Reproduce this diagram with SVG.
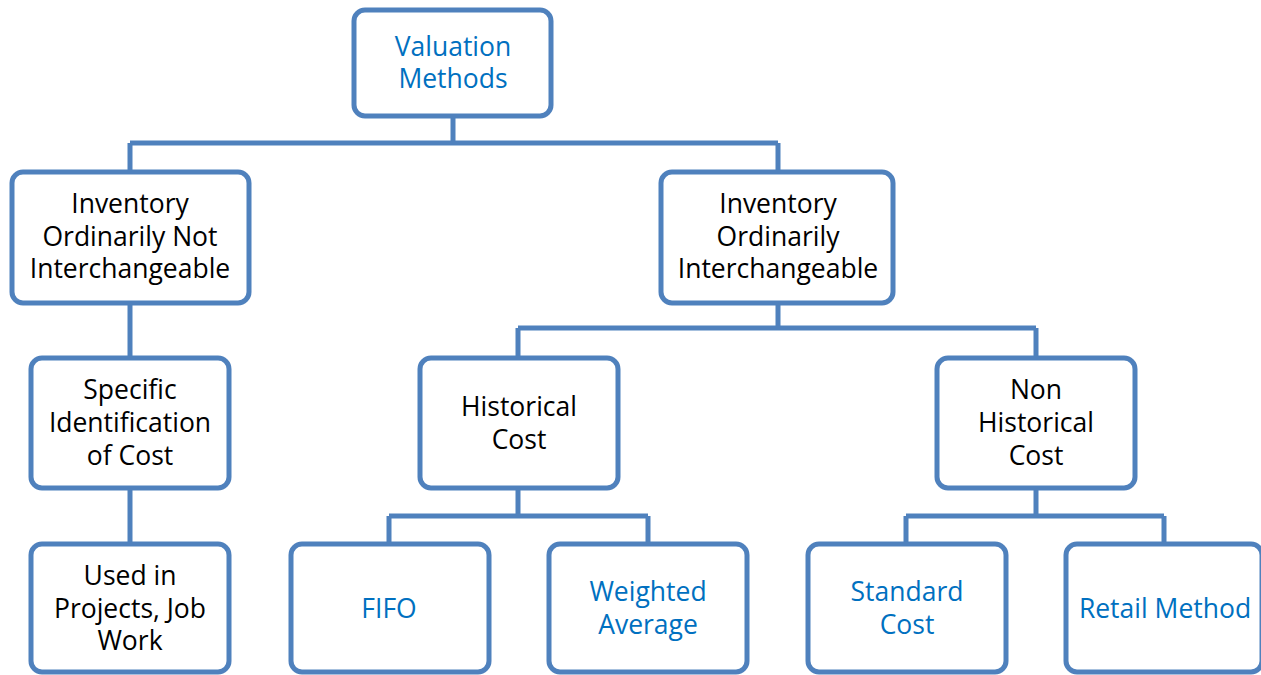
<svg xmlns="http://www.w3.org/2000/svg" width="1261" height="675" viewBox="0 0 1261 675">
<style>
.box{fill:#fff;stroke:#4F81BD;stroke-width:5}
.con{fill:none;stroke:#4F81BD;stroke-width:5}
text{font-family:"Open Sans","Noto Sans","Liberation Sans",sans-serif;font-size:26.5px;text-anchor:middle}
.b{fill:#0070C0}
.k{fill:#000}
</style>
<rect width="1261" height="675" fill="#fff"/>
<g id="connectors">
<path class="con" d="M453 116V143M130 143H778M130 143V172M778 143V172"/>
<path class="con" d="M130 303V358M130 488V544"/>
<path class="con" d="M778 303V328M518 328H1036M518 328V358M1036 328V358"/>
<path class="con" d="M518 488V516M389 516H648M389 516V544M648 516V544"/>
<path class="con" d="M1036 488V516M906 516H1164M906 516V544M1164 516V544"/>
</g>
<g id="valuation">
<rect class="box" x="354" y="10" width="197" height="106" rx="11"/>
<text class="b" x="453" y="56">Valuation</text>
<text class="b" x="453" y="88">Methods</text>
</g>
<g id="not-interchangeable">
<rect class="box" x="12" y="172" width="237" height="131" rx="11"/>
<text class="k" x="130" y="213">Inventory</text>
<text class="k" x="130" y="246">Ordinarily Not</text>
<text class="k" x="130" y="278">Interchangeable</text>
</g>
<g id="interchangeable">
<rect class="box" x="661" y="172" width="232" height="131" rx="11"/>
<text class="k" x="778" y="213">Inventory</text>
<text class="k" x="778" y="246">Ordinarily</text>
<text class="k" x="778" y="278">Interchangeable</text>
</g>
<g id="specific">
<rect class="box" x="31" y="358" width="198" height="130" rx="11"/>
<text class="k" x="130" y="399">Specific</text>
<text class="k" x="130" y="432">Identification</text>
<text class="k" x="130" y="465">of Cost</text>
</g>
<g id="historical">
<rect class="box" x="420" y="358" width="198" height="130" rx="11"/>
<text class="k" x="519" y="416">Historical</text>
<text class="k" x="519" y="449">Cost</text>
</g>
<g id="non-historical">
<rect class="box" x="937" y="358" width="198" height="130" rx="11"/>
<text class="k" x="1036" y="399">Non</text>
<text class="k" x="1036" y="432">Historical</text>
<text class="k" x="1036" y="465">Cost</text>
</g>
<g id="used-in">
<rect class="box" x="31" y="544" width="198" height="128" rx="11"/>
<text class="k" x="130" y="585">Used in</text>
<text class="k" x="130" y="618">Projects, Job</text>
<text class="k" x="130" y="650">Work</text>
</g>
<g id="fifo">
<rect class="box" x="291" y="544" width="198" height="128" rx="11"/>
<text class="b" x="389" y="618">FIFO</text>
</g>
<g id="weighted">
<rect class="box" x="549" y="544" width="198" height="128" rx="11"/>
<text class="b" x="648" y="601">Weighted</text>
<text class="b" x="648" y="634">Average</text>
</g>
<g id="standard">
<rect class="box" x="808" y="544" width="198" height="128" rx="11"/>
<text class="b" x="907" y="601">Standard</text>
<text class="b" x="907" y="634">Cost</text>
</g>
<g id="retail">
<rect class="box" x="1066" y="544" width="196" height="128" rx="11"/>
<text class="b" x="1165" y="618">Retail Method</text>
</g>
</svg>
